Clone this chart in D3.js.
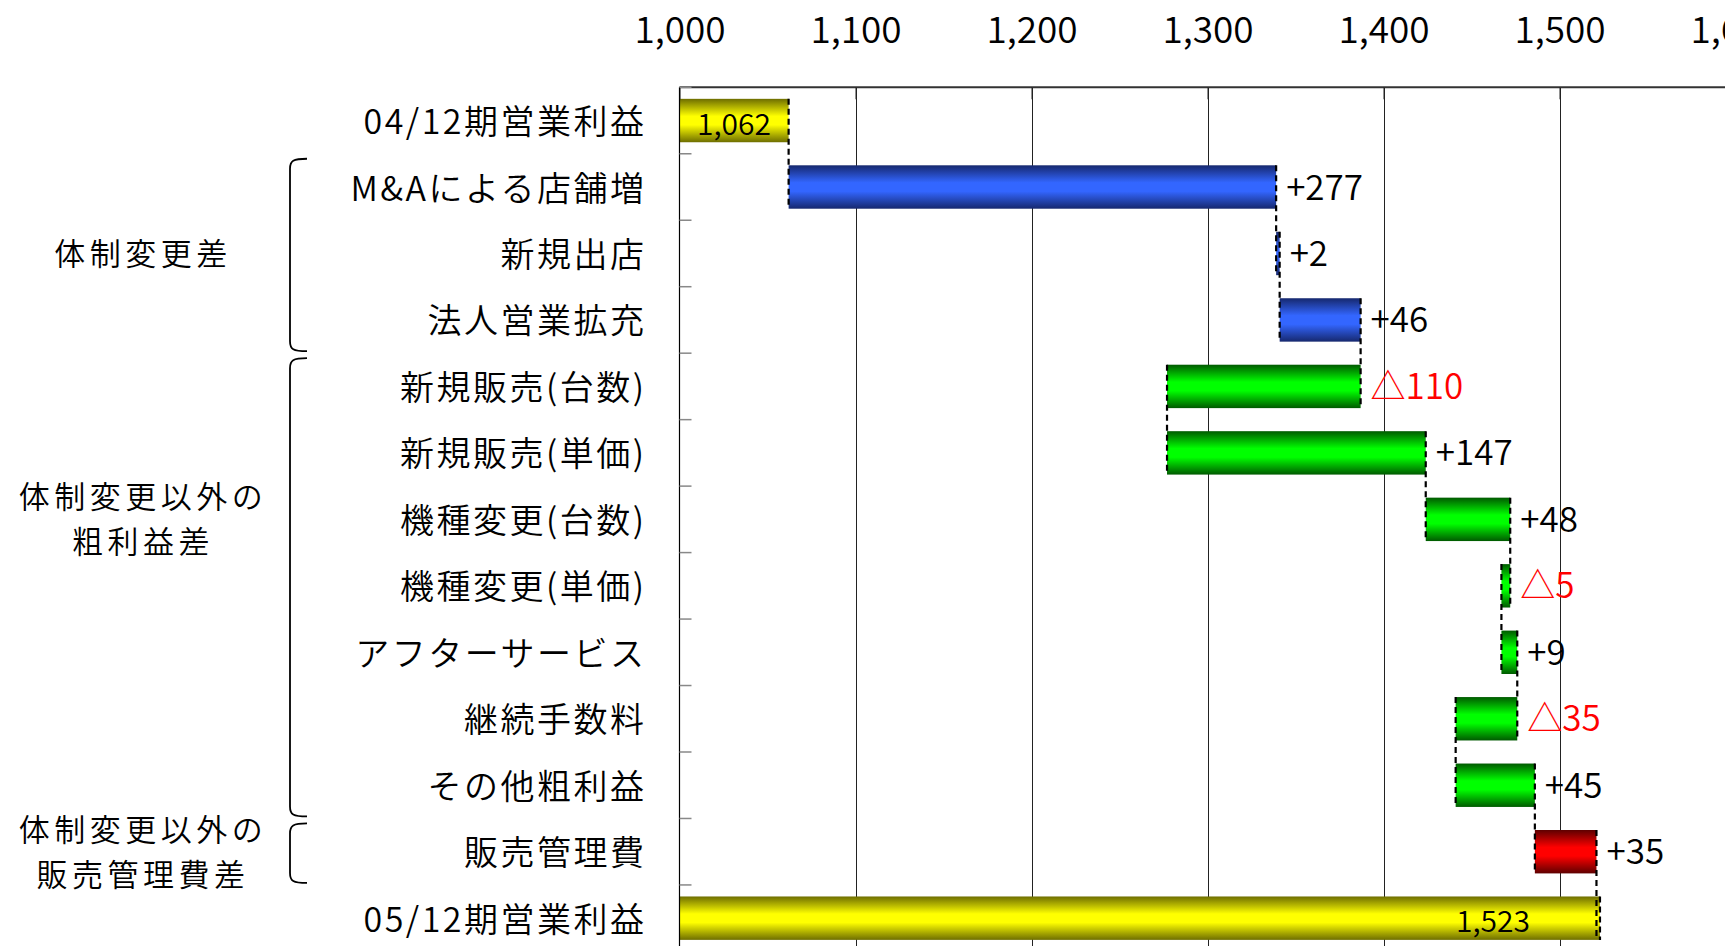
<!DOCTYPE html>
<html>
<head>
<meta charset="utf-8">
<script src="https://cdn.jsdelivr.net/npm/d3@7"></script>
<style>
  html, body { margin: 0; padding: 0; background: #ffffff; }
  svg { display: block; }
  text { font-family: "Noto Sans CJK JP", "Noto Sans", sans-serif; fill: #000; font-weight: 350; }
</style>
</head>
<body>
<svg id="chart" width="1725" height="946"></svg>
<script>
// ---------------- DATA ----------------
const categories = [
  "04/12期営業利益",
  "M&Aによる店舗増",
  "新規出店",
  "法人営業拡充",
  "新規販売(台数)",
  "新規販売(単価)",
  "機種変更(台数)",
  "機種変更(単価)",
  "アフターサービス",
  "継続手数料",
  "その他粗利益",
  "販売管理費",
  "05/12期営業利益"
];
// totals are absolute values, the others are changes
const values = [1062, 277, 2, 46, -110, 147, 48, -5, 9, -35, 45, 35, 1523];
const totalCategories = ["04/12期営業利益", "05/12期営業利益"];

const groupLines = [
  ["体制変更差"],
  ["体制変更以外の", "粗利益差"],
  ["体制変更以外の", "販売管理費差"]
];
const groupFirst = ["M&Aによる店舗増", "新規販売(台数)", "販売管理費"];
const groupLast  = ["法人営業拡充", "その他粗利益", "販売管理費"];
const groupLabelAt = ["新規出店", "機種変更(台数)", "販売管理費"];

const xTicks = [1000, 1100, 1200, 1300, 1400, 1500, 1600];
const xTickLabels = ["1,000", "1,100", "1,200", "1,300", "1,400", "1,500", "1,600"];

// ---------------- LAYOUT ----------------
const W = 1725, H = 946;
const plotLeft = 679.5, plotTop = 87.3, step = 66.47;
const svg = d3.select("#chart");

const x = d3.scaleLinear().domain([1000, 1600]).range([plotLeft, plotLeft + 1056]);
const y = d3.scaleBand()
  .domain(categories)
  .range([plotTop, plotTop + step * categories.length])
  .paddingInner(0.347)
  .paddingOuter(0.1735);
const bw = y.bandwidth();
const plotBottom = plotTop + step * categories.length;

// ---------------- GRADIENTS ----------------
const palettes = {
  total: ["#6e6e00", "#ffff00"],
  g0: ["#16286e", "#3366ff"],
  g1: ["#005a00", "#00ff00"],
  g2: ["#5e0000", "#ff0000"]
};
const defs = svg.append("defs");
Object.entries(palettes).forEach(([k, [dark, bright]]) => {
  const g = defs.append("linearGradient").attr("id", "grad-" + k)
    .attr("x1", 0).attr("y1", 0).attr("x2", 0).attr("y2", 1);
  g.append("stop").attr("offset", "0%").attr("stop-color", dark);
  g.append("stop").attr("offset", "40%").attr("stop-color", bright);
  g.append("stop").attr("offset", "60%").attr("stop-color", bright);
  g.append("stop").attr("offset", "100%").attr("stop-color", dark);
});

// ---------------- WATERFALL ----------------
let running = 0;
const bars = categories.map((c, i) => {
  const v = values[i];
  const isTotal = totalCategories.includes(c);
  let s, e;
  if (isTotal) { s = x.domain()[0]; e = v; running = v; }
  else { s = running; e = running + v; running = e; }
  let key = "total";
  if (!isTotal) {
    const idx = categories.indexOf(c);
    groupFirst.forEach((f, gi) => {
      if (idx >= categories.indexOf(f) && idx <= categories.indexOf(groupLast[gi])) key = "g" + gi;
    });
  }
  return { c, v, s, e, isTotal, key, i };
});

// ---------------- GRID ----------------
svg.append("g").selectAll("line")
  .data(xTicks.filter(t => t !== x.domain()[0]))
  .join("line")
  .attr("x1", d => Math.round(x(d)) + 0.5).attr("x2", d => Math.round(x(d)) + 0.5)
  .attr("y1", plotTop).attr("y2", plotBottom)
  .attr("stroke", "#222").attr("stroke-width", 1);

// ---------------- BARS ----------------
svg.append("g").selectAll("rect")
  .data(bars)
  .join("rect")
  .attr("x", d => x(Math.min(d.s, d.e)))
  .attr("width", d => Math.max(1, Math.abs(x(d.e) - x(d.s))))
  .attr("y", d => y(d.c))
  .attr("height", bw)
  .attr("fill", d => `url(#grad-${d.key})`);

// ---------------- CONNECTORS ----------------
const conn = bars.slice(0, -1).map((d, i) => ({
  xv: d.e, y1: y(d.c), y2: y(bars[i + 1].c) + bw
}));
conn.push({ xv: bars[bars.length - 1].e, y1: y(bars[bars.length - 1].c), y2: y(bars[bars.length - 1].c) + bw });
svg.append("g").selectAll("line")
  .data(conn)
  .join("line")
  .attr("x1", d => x(d.xv)).attr("x2", d => x(d.xv))
  .attr("y1", d => d.y1).attr("y2", d => d.y2)
  .attr("stroke", "#000").attr("stroke-width", 2.2)
  .attr("stroke-dasharray", "6,4");

// ---------------- AXES ----------------
const xAxis = d3.axisTop(x).tickValues(xTicks)
  .tickFormat((d, i) => xTickLabels[i])
  .tickSizeInner(-12).tickSizeOuter(0).tickPadding(44);
const gx = svg.append("g").attr("transform", `translate(0,${plotTop})`).call(xAxis);
gx.select(".domain").attr("stroke", "#333").attr("stroke-width", 2)
  .attr("d", `M${plotLeft},0H${W + 20}`);
gx.selectAll(".tick line").attr("stroke", "#222");
gx.selectAll(".tick text")
  .attr("dy", "0").attr("font-size", 37).attr("fill", "#000")
  .attr("font-family", '"Noto Sans CJK JP", sans-serif')
  .attr("font-weight", 350);

// left axis line
svg.append("line")
  .attr("x1", plotLeft).attr("x2", plotLeft)
  .attr("y1", plotTop).attr("y2", plotBottom)
  .attr("stroke", "#000").attr("stroke-width", 1.2);

// band boundary ticks
const boundaries = d3.range(categories.length + 1).map(i => plotTop + i * step);
svg.append("g").selectAll("line")
  .data(boundaries)
  .join("line")
  .attr("x1", plotLeft).attr("x2", plotLeft + 12)
  .attr("y1", d => d).attr("y2", d => d)
  .attr("stroke", "#888").attr("stroke-width", 1.5);

// category labels
const yAxis = d3.axisLeft(y).tickSize(0).tickPadding(33);
const gy = svg.append("g").attr("transform", `translate(${plotLeft},0)`).call(yAxis);
gy.select(".domain").remove();
gy.selectAll(".tick text")
  .attr("dy", "-1")
  .attr("dominant-baseline", "central")
  .attr("font-size", 34)
  .attr("letter-spacing", "2.5px")
  .attr("fill", "#000")
  .attr("font-family", '"Noto Sans CJK JP", sans-serif')
  .attr("font-weight", 350);

// ---------------- VALUE LABELS ----------------
const fmt = d3.format(",");
svg.append("g").selectAll("text")
  .data(bars.filter(d => !d.isTotal))
  .join("text")
  .attr("x", d => x(Math.max(d.s, d.e)) + 10)
  .attr("y", d => y(d.c) + bw / 2 - 3)
  .attr("dominant-baseline", "central")
  .attr("font-size", 35)
  .style("fill", d => d.v < 0 ? "#ff0000" : "#000")
  .text(d => d.v < 0 ? "△" + fmt(-d.v) : "+" + fmt(d.v));

// total labels inside bars
svg.append("g").selectAll("text")
  .data(bars.filter(d => d.isTotal))
  .join("text")
  .attr("x", (d, i) => i === 0 ? (x(d.s) + x(d.e)) / 2 : x(d.e) - 70)
  .attr("text-anchor", (d, i) => i === 0 ? "middle" : "end")
  .attr("y", d => y(d.c) + bw / 2 + 1)
  .attr("dominant-baseline", "central")
  .attr("font-size", 30)
  .text(d => fmt(d.v));

// ---------------- GROUP BRACKETS ----------------
const xv = 290, xh = 307;
groupLines.forEach((lines, gi) => {
  const top = y(groupFirst[gi]) - (step - bw) / 2 + 5;
  const bot = y(groupLast[gi]) + bw + (step - bw) / 2 - 2;
  svg.append("path")
    .attr("d", `M${xh},${top} C${xv + 3},${top} ${xv},${top + 2} ${xv},${top + 10} L${xv},${bot - 10} C${xv},${bot - 2} ${xv + 3},${bot} ${xh},${bot}`)
    .attr("fill", "none").attr("stroke", "#000").attr("stroke-width", 1.8);
  const cy = y(groupLabelAt[gi]) + bw / 2 - 2;
  const lh = 45;
  const t = svg.append("text")
    .attr("text-anchor", "middle")
    .attr("font-size", 31)
    .attr("letter-spacing", "4.5px");
  lines.forEach((ln, li) => {
    t.append("tspan")
      .attr("x", 143)
      .attr("y", cy + (li - (lines.length - 1) / 2) * lh)
      .attr("dominant-baseline", "central")
      .text(ln);
  });
});
</script>
</body>
</html>
